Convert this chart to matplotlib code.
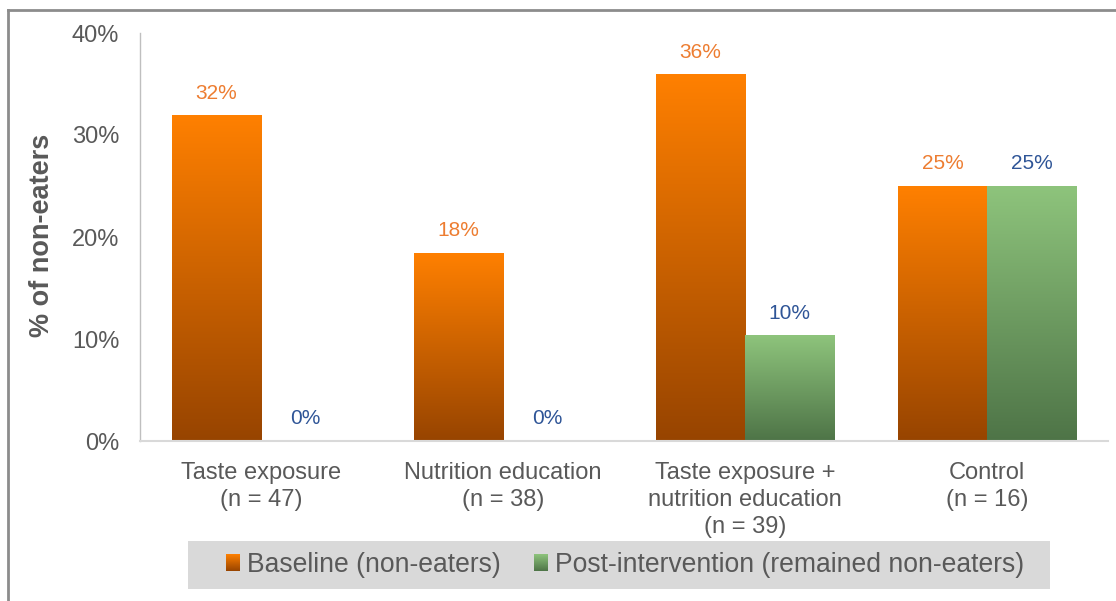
import matplotlib
matplotlib.use("Agg")
import matplotlib.pyplot as plt
import numpy as np
from matplotlib.colors import to_rgb
from matplotlib.legend_handler import HandlerBase
from matplotlib.image import BboxImage
from matplotlib.transforms import Bbox, TransformedBbox
from matplotlib.patches import Rectangle
from matplotlib.lines import Line2D

plt.rcParams["font.family"] = ["Liberation Sans", "DejaVu Sans"]

# ---- data ----
categories = [
    "Taste exposure\n(n = 47)",
    "Nutrition education\n(n = 38)",
    "Taste exposure +\nnutrition education\n(n = 39)",
    "Control\n(n = 16)",
]
baseline = [31.9, 18.4, 35.9, 25.0]
post = [0.0, 0.0, 10.3, 25.0]
series_names = ["Baseline (non-eaters)", "Post-intervention (remained non-eaters)"]
yticks = [0, 10, 20, 30, 40]

# ---- styling ----
ORANGE_TOP, ORANGE_BOT = "#FF8000", "#974400"
GREEN_TOP, GREEN_BOT = "#8EC47C", "#4E7447"
ORANGE_LABEL, BLUE_LABEL = "#ED7D31", "#2F5597"
TEXT = "#595959"
W, H = 1116, 601


def gradient(top, bottom, n=256):
    t = np.linspace(0, 1, n)[:, None]
    c0 = np.array(to_rgb(top))
    c1 = np.array(to_rgb(bottom))
    return (c0 * (1 - t) + c1 * t)[:, None, :]


class GradientSquare(HandlerBase):
    def __init__(self, top, bottom):
        super().__init__()
        self.grad = gradient(top, bottom)

    def create_artists(self, legend, orig_handle, xdescent, ydescent,
                       width, height, fontsize, trans):
        bb = Bbox.from_bounds(-xdescent, -ydescent, width, height)
        img = BboxImage(TransformedBbox(bb, trans), interpolation="bilinear")
        img.set_data(self.grad)
        return [img]


fig = plt.figure(figsize=(W / 100, H / 100), dpi=100)
ax = fig.add_axes([140 / W, 1 - 441 / H, 968 / W, 408 / H])

x = np.arange(len(categories))
w = 0.368
bars_base = ax.bar(x - w / 2, baseline, w, color="none", edgecolor="none")
bars_post = ax.bar(x + w / 2, post, w, color="none", edgecolor="none")

for bars, (top, bot) in ((bars_base, (ORANGE_TOP, ORANGE_BOT)),
                         (bars_post, (GREEN_TOP, GREEN_BOT))):
    g = gradient(top, bot)
    for bar in bars:
        h = bar.get_height()
        if h <= 0:
            continue
        x0 = bar.get_x()
        x1 = x0 + bar.get_width()
        ax.imshow(g, extent=[x0, x1, 0, h], origin="upper", aspect="auto",
                  interpolation="bilinear", zorder=2)

for bars, vals, col in ((bars_base, baseline, ORANGE_LABEL),
                        (bars_post, post, BLUE_LABEL)):
    for bar, v in zip(bars, vals):
        ax.annotate(f"{v:.0f}%", (bar.get_x() + bar.get_width() / 2, v),
                    xytext=(0, 16.2), textcoords="offset points",
                    ha="center", va="center", fontsize=15, color=col)

ax.set_xlim(-0.5, 3.5)
ax.set_ylim(0, 40)
ax.set_yticks(yticks, [f"{t}%" for t in yticks])
ax.set_xticks(x, categories)
ax.tick_params(axis="y", length=0, pad=15, labelsize=17, labelcolor=TEXT)
ax.tick_params(axis="x", length=0, pad=15, labelsize=17, labelcolor=TEXT)
for lbl in ax.get_xticklabels():
    lbl.set_linespacing(1.3)

for s in ("top", "right"):
    ax.spines[s].set_visible(False)
ax.spines["left"].set_color("#bfbfbf")
ax.spines["left"].set_linewidth(1.0)
ax.spines["bottom"].set_color("#d9d9d9")
ax.spines["bottom"].set_linewidth(1.5)

fig.text(42 / W, 1 - 235 / H, "% of non-eaters", rotation=90,
         ha="center", va="center", fontsize=19.5, fontweight="bold", color=TEXT)

# legend band
fig.add_artist(Rectangle((188 / W, 1 - 589 / H), 862 / W, 48 / H,
                         transform=fig.transFigure, facecolor="#d9d9d9",
                         edgecolor="none", zorder=0))
h1 = Rectangle((0, 0), 1, 1)
h2 = Rectangle((0, 0), 1, 1)
fig.legend([h1, h2], series_names, loc="center",
           bbox_to_anchor=(625 / W, 1 - 565 / H), ncol=2, frameon=False,
           fontsize=19.1, handlelength=0.5, handleheight=0.56,
           handletextpad=0.28, columnspacing=1.25, labelcolor=TEXT,
           handler_map={h1: GradientSquare(ORANGE_TOP, ORANGE_BOT),
                        h2: GradientSquare(GREEN_TOP, GREEN_BOT)})

# outer chart frame
fig.add_artist(Line2D([8 / W, 8 / W], [0, 1 - 10 / H], transform=fig.transFigure,
                      color="#8c8c8c", lw=2))
fig.add_artist(Line2D([8 / W, 1], [1 - 10 / H, 1 - 10 / H],
                      transform=fig.transFigure, color="#8c8c8c", lw=2))

fig.savefig("out.png", dpi=100)
